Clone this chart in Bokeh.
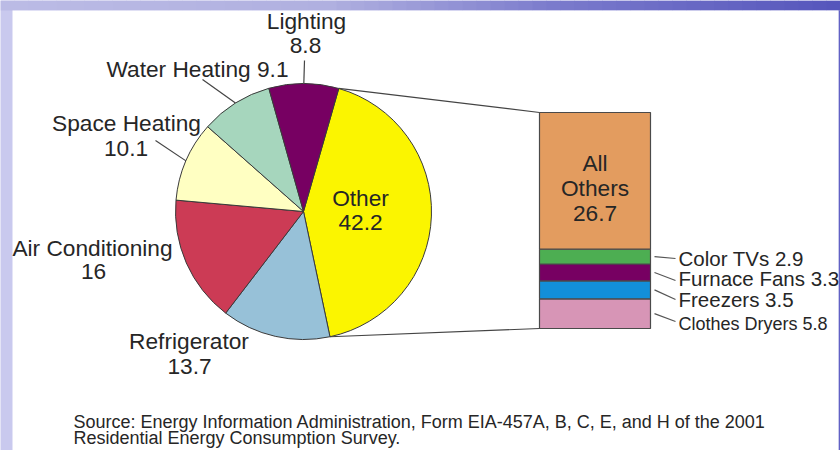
import numpy as np
from bokeh.plotting import figure
from bokeh.models import Range1d
from bokeh.core.properties import value
from bokeh.embed import file_html
from bokeh.resources import INLINE

# ---------------- data ----------------
pie_names = ["Other", "Refrigerator", "Air Conditioning", "Space Heating", "Water Heating", "Lighting"]
pie_values = [42.2, 13.7, 16, 10.1, 9.1, 8.8]
pie_colors = ["#FBF500", "#97C1D8", "#CC3B55", "#FFFFC2", "#A6D6BD", "#770062"]

bar_names = ["Clothes Dryers", "Freezers", "Furnace Fans", "Color TVs", "All Others"]
bar_values = [5.8, 3.5, 3.3, 2.9, 26.7]
bar_colors = ["#D795B6", "#128FD9", "#770062", "#4DAE52", "#E39C5F"]

source_lines = [
    "Source: Energy Information Administration, Form EIA-457A, B, C, E, and H of the 2001",
    "Residential Energy Consumption Survey.",
]

# ---------------- layout / style ----------------
W, H = 840, 450
FONT = value("Liberation Sans")
TXT = "#262626"
EDGE = "#3a3a3a"
TDY = 7  # text baseline correction (px)


def Y(s):
    return H - s


def TY(b):
    return H - (b - TDY)


def fmt(v):
    return f"{v:g}"


p = figure(width=W, height=H, x_range=Range1d(0, W), y_range=Range1d(0, H),
           output_backend="svg", toolbar_location=None,
           x_axis_location=None, y_axis_location=None, min_border=0)
p.grid.visible = False
p.outline_line_color = None
p.background_fill_color = "#C9C9EE"
p.border_fill_color = "#C9C9EE"

# slide background: top band gradient, right strip, white panel
stops_x = [0, 330, 560, 840]
stops_c = [(188, 188, 230), (176, 176, 224), (122, 122, 204), (86, 86, 188)]
n = 60
edges = np.linspace(0, W, n + 1)
mids = (edges[:-1] + edges[1:]) / 2
cols = []
for m in mids:
    rgb = [int(np.interp(m, stops_x, [c[k] for c in stops_c])) for k in range(3)]
    cols.append("#%02x%02x%02x" % tuple(rgb))
p.quad(left=edges[:-1], right=edges[1:] + 0.5, bottom=Y(10), top=H, fill_color=cols, line_color=None)
p.quad(left=[838], right=[W], bottom=[0], top=[Y(10)], fill_color="#6262C4", line_color=None)
p.quad(left=[12], right=[838], bottom=[0], top=[Y(10)], fill_color="white", line_color=None)

# ---------------- pie ----------------
CX, CY, R = 303, Y(211), 128
START = 16.0  # degrees clockwise from 12 o'clock
fr = np.array(pie_values) / np.sum(pie_values)
cum = np.concatenate([[0.0], np.cumsum(fr)]) * 360.0 + START
th1, th2 = cum[:-1], cum[1:]
p.wedge(x=CX, y=CY, radius=R,
        start_angle=np.radians(90 - th2), end_angle=np.radians(90 - th1),
        fill_color=pie_colors, line_color=EDGE, line_width=1)


def edge_pt(theta_deg, r=R):
    t = np.radians(theta_deg)
    return CX + r * np.sin(t), CY + r * np.cos(t)


# pie labels: (line positions in screen px, leader start or None)
pie_label_layout = {
    "Other": ([(360, 204), (360, 229)], None),
    "Refrigerator": ([(188.5, 347), (189, 373)], None),
    "Air Conditioning": ([(92, 254), (93, 278)], None),
    "Space Heating": ([(126, 129), (125.5, 155)], (155, 140)),
    "Water Heating": ([(197, 75)], (202, 79)),
    "Lighting": ([(306, 27), (305, 52)], (304, 60)),
}
tx, ty, tt = [], [], []
lx0, ly0, lx1, ly1 = [], [], [], []
for i, (name, v) in enumerate(zip(pie_names, pie_values)):
    pos, lead = pie_label_layout[name]
    lines = [name, fmt(v)] if len(pos) == 2 else [f"{name} {fmt(v)}"]
    for (x, b), s in zip(pos, lines):
        tx.append(x); ty.append(TY(b)); tt.append(s)
    if lead is not None:
        ex, ey = edge_pt((th1[i] + th2[i]) / 2)
        lx0.append(lead[0]); ly0.append(Y(lead[1])); lx1.append(ex); ly1.append(ey)
p.segment(x0=lx0, y0=ly0, x1=lx1, y1=ly1, line_color="#444444", line_width=1.2)
p.text(x=tx, y=ty, text=tt, text_font=FONT, text_font_size="22.7px", text_color=TXT,
       text_align="center", text_baseline="alphabetic")

# ---------------- stacked bar (own vertical scale) ----------------
BL, BR = 539, 650
B_BOT, B_TOP = Y(328), Y(112)
total = float(np.sum(bar_values))
k = (B_TOP - B_BOT) / total
p.extra_y_ranges = {"bar": Range1d(-B_BOT / k, (H - B_BOT) / k)}
bc = np.concatenate([[0.0], np.cumsum(bar_values)])
p.quad(left=BL, right=BR, bottom=bc[:-1], top=bc[1:], y_range_name="bar",
       fill_color=bar_colors, line_color="#4a4a4a", line_width=1.2)

# connectors pie -> bar
ox, oy = edge_pt(th1[0])
rx, ry = edge_pt(th2[0])
p.line(x=[ox, BL], y=[oy, B_TOP], line_color="#444444", line_width=1.2)
p.line(x=[rx, BL], y=[ry, B_BOT], line_color="#444444", line_width=1.2)

# "All Others" label inside top segment
top_name = bar_names[-1]
inner = top_name.split(" ") + [fmt(bar_values[-1])]
p.text(x=[594.5] * 3, y=[TY(169), TY(194), TY(220)], text=inner, text_font=FONT,
       text_font_size="22.7px", text_color=TXT, text_align="center", text_baseline="alphabetic")

# small segment labels on the right
small_layout = {  # name: (baseline, label center, font size)
    "Color TVs": (265, 258, "20.5px"),
    "Furnace Fans": (285, 280, "20.5px"),
    "Freezers": (306, 299, "20.5px"),
    "Clothes Dryers": (330, 321, "18px"),
}
for i, (name, v) in enumerate(zip(bar_names[:-1], bar_values[:-1])):
    base, cen, fs = small_layout[name]
    mid = B_BOT + k * (bc[i] + bc[i + 1]) / 2
    p.line(x=[654, 675], y=[mid, Y(cen)], line_color="#555555", line_width=1.2)
    p.text(x=[678], y=[TY(base)], text=[f"{name} {fmt(v)}"], text_font=FONT,
           text_font_size=fs, text_color=TXT, text_align="left", text_baseline="alphabetic")

# source note
p.text(x=[73, 73], y=[TY(428), TY(444)], text=source_lines, text_font=FONT,
       text_font_size="18px", text_color=TXT, text_align="left", text_baseline="alphabetic")

open("out.html", "w").write(file_html(p, INLINE))
